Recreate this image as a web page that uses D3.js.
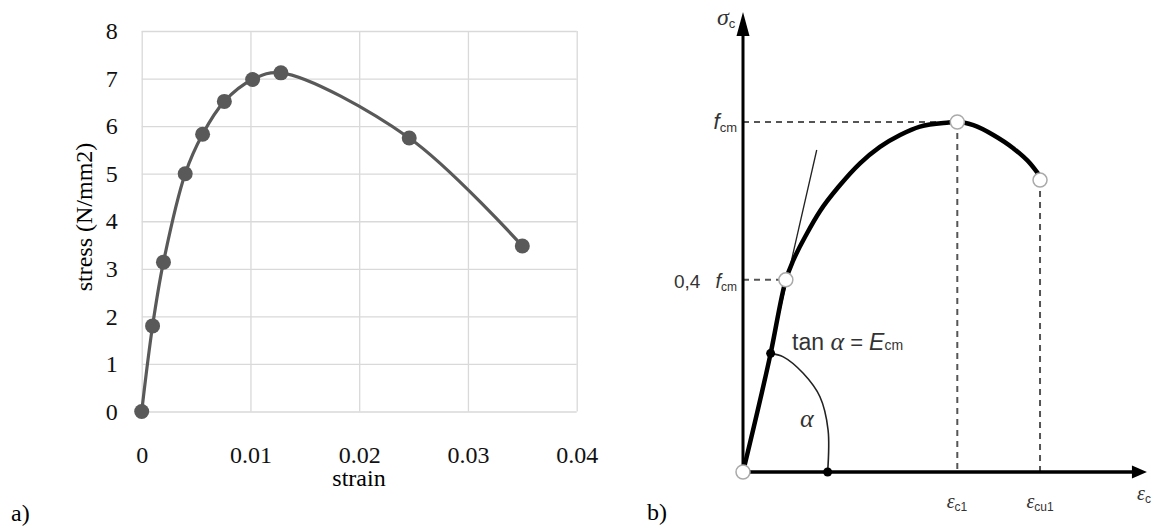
<!DOCTYPE html>
<html>
<head>
<meta charset="utf-8">
<script src="https://cdn.jsdelivr.net/npm/d3@7"></script>
<style>
  body { margin: 0; background: #fff; }
  .grid line { stroke: #d9d9d9; stroke-width: 1.3; }
  .grid path { display: none; }
  .tick text { font-family: "Liberation Serif", "Times New Roman", serif; font-size: 24px; fill: #111; }
  .diag { font-family: "Liberation Sans", Arial, sans-serif; fill: #333; }
</style>
</head>
<body>
<div id="chart"></div>
<script>
// ---- data: a) measured stress-strain curve
var strain = [0, 0.001, 0.002, 0.004, 0.0056, 0.0076, 0.0102, 0.0128, 0.0246, 0.035];
var stress = [0, 1.8, 3.14, 5.0, 5.83, 6.52, 6.98, 7.12, 5.75, 3.48];
var xTicks = [0, 0.01, 0.02, 0.03, 0.04];
var yTicks = [0, 1, 2, 3, 4, 5, 6, 7, 8];

// ---- data: b) schematic curve (strain / eps_c1, stress / f_cm)
var schemStrain = [0, 0.129, 0.2, 0.235, 0.297, 0.359, 0.453, 0.546, 0.639, 0.733, 0.826, 0.951, 1, 1.075, 1.168, 1.261, 1.339, 1.386];
var schemStress = [0, 0.339, 0.549, 0.605, 0.68, 0.745, 0.82, 0.882, 0.929, 0.963, 0.987, 0.998, 1, 0.991, 0.963, 0.925, 0.882, 0.845];
var secantEnd = [0.344, 0.92];
var arcStrain = [0.129, 0.188, 0.281, 0.359, 0.397, 0.395];
var arcStress = [0.339, 0.329, 0.282, 0.215, 0.12, 0];
var fcmLevel = 1, lowLevel = 0.549, lowStrain = 0.2;
var ec1 = 1, ecu1 = 1.386, ecu1Stress = 0.834;
var axisEnd = [1.885, 1.314];

var svgWidth = 1157, svgHeight = 531;

var svg = d3.select('#chart').append('svg')
    .attr('width', svgWidth)
    .attr('height', svgHeight);

// ================= a) =================
var xscale = d3.scaleLinear().domain([0, 0.04]).range([141.7, 576.7]);
var yscale = d3.scaleLinear().domain([0, 8]).range([411.5, 31]);

// gridlines
svg.append('g')
    .attr('class', 'grid')
    .attr('transform', 'translate(0, 31)')
    .call(d3.axisBottom(xscale).tickValues(xTicks).tickSize(380.5).tickFormat(''));
svg.append('g')
    .attr('class', 'grid')
    .attr('transform', 'translate(141.7, 0)')
    .call(d3.axisRight(yscale).tickValues(yTicks).tickSize(435).tickFormat(''));

// tick labels
var bottomaxis = d3.axisBottom(xscale).tickValues(xTicks).tickSize(0).tickPadding(34)
    .tickFormat(d => d === 0 ? '0' : d3.format('.2f')(d));
svg.append('g')
    .attr('transform', 'translate(0, 411.5)')
    .call(bottomaxis)
    .call(g => g.select('.domain').remove());

var leftaxis = d3.axisLeft(yscale).tickValues(yTicks).tickSize(0).tickPadding(24);
svg.append('g')
    .attr('transform', 'translate(141.7, 0)')
    .call(leftaxis)
    .call(g => g.select('.domain').remove());

// curve + markers
var pts = strain.map((s, i) => [s, stress[i]]);
var line = d3.line()
    .x(d => xscale(d[0]))
    .y(d => yscale(d[1]))
    .curve(d3.curveCatmullRom.alpha(0.5));

svg.append('path')
    .datum(pts)
    .attr('d', line)
    .attr('fill', 'none')
    .attr('stroke', '#595959')
    .attr('stroke-width', 3.2);

svg.selectAll('.mk')
    .data(pts)
    .enter()
    .append('circle')
    .attr('cx', d => xscale(d[0]))
    .attr('cy', d => yscale(d[1]))
    .attr('r', 7.5)
    .attr('fill', '#595959');

// axis titles
var serif = '"Liberation Serif", "Times New Roman", serif';
svg.append('text')
    .attr('x', 359).attr('y', 486)
    .attr('text-anchor', 'middle')
    .style('font-family', serif).style('font-size', '24px')
    .text('strain');

svg.append('text')
    .attr('transform', 'translate(92, 217) rotate(-90)')
    .attr('text-anchor', 'middle')
    .style('font-family', serif).style('font-size', '24px')
    .text('stress (N/mm2)');

svg.append('text')
    .attr('x', 11).attr('y', 521)
    .style('font-family', serif).style('font-size', '24px')
    .text('a)');

svg.append('text')
    .attr('x', 647).attr('y', 520)
    .style('font-family', serif).style('font-size', '24px')
    .text('b)');

// ================= b) =================
var xs = d3.scaleLinear().domain([0, 1]).range([743, 957.3]);
var ys = d3.scaleLinear().domain([0, 1]).range([472, 122]);
var b = svg.append('g');

// dashed reference lines
var dash = (x1, y1, x2, y2) => b.append('line')
    .attr('x1', x1).attr('y1', y1).attr('x2', x2).attr('y2', y2)
    .attr('stroke', '#555').attr('stroke-width', 2).attr('stroke-dasharray', '6,5');
dash(xs(0), ys(fcmLevel), xs(ec1), ys(fcmLevel));
dash(xs(0), ys(lowLevel), xs(lowStrain), ys(lowLevel));
dash(xs(ec1), ys(fcmLevel), xs(ec1), ys(0));
dash(xs(ecu1), ys(ecu1Stress), xs(ecu1), ys(0));

// axes with arrows
b.append('line')
    .attr('x1', xs(0)).attr('y1', ys(0)).attr('x2', xs(0)).attr('y2', ys(axisEnd[1]) + 20)
    .attr('stroke', '#000').attr('stroke-width', 3);
b.append('path')
    .attr('d', `M${xs(0)},${ys(axisEnd[1])} L${xs(0) - 6.5},${ys(axisEnd[1]) + 24} L${xs(0) + 6.5},${ys(axisEnd[1]) + 24} Z`)
    .attr('fill', '#000');
b.append('line')
    .attr('x1', xs(0)).attr('y1', ys(0)).attr('x2', xs(axisEnd[0]) - 12).attr('y2', ys(0))
    .attr('stroke', '#000').attr('stroke-width', 3.5);
b.append('path')
    .attr('d', `M${xs(axisEnd[0])},${ys(0)} L${xs(axisEnd[0]) - 15},${ys(0) - 6.5} L${xs(axisEnd[0]) - 15},${ys(0) + 6.5} Z`)
    .attr('fill', '#000');

// secant line
b.append('line')
    .attr('x1', xs(0)).attr('y1', ys(0)).attr('x2', xs(secantEnd[0])).attr('y2', ys(secantEnd[1]))
    .attr('stroke', '#222').attr('stroke-width', 1.3);

// angle arc
var arcPts = arcStrain.map((s, i) => [s, arcStress[i]]);
b.append('path')
    .datum(arcPts)
    .attr('d', d3.line().x(d => xs(d[0])).y(d => ys(d[1])).curve(d3.curveCatmullRom))
    .attr('fill', 'none').attr('stroke', '#222').attr('stroke-width', 1.6);

// main schematic curve
var sPts = schemStrain.map((s, i) => [s, schemStress[i]]);
b.append('path')
    .datum(sPts)
    .attr('d', d3.line().x(d => xs(d[0])).y(d => ys(d[1])).curve(d3.curveMonotoneX))
    .attr('fill', 'none').attr('stroke', '#000').attr('stroke-width', 4.5);

// black dots
[[arcStrain[0], arcStress[0]], [arcStrain[arcStrain.length - 1], 0]].forEach(p => {
    b.append('circle').attr('cx', xs(p[0])).attr('cy', ys(p[1])).attr('r', 4.5).attr('fill', '#000');
});

// open circles
[[0, 0], [lowStrain, lowLevel], [ec1, fcmLevel], [ecu1, ecu1Stress]].forEach(p => {
    b.append('circle').attr('cx', xs(p[0])).attr('cy', ys(p[1])).attr('r', 7)
        .attr('fill', '#fff').attr('stroke', '#aaa').attr('stroke-width', 1.5);
});

// labels
function label(x, y, main, sub, opts) {
    var t = b.append('text').attr('class', 'diag')
        .attr('x', x).attr('y', y)
        .attr('text-anchor', opts.anchor || 'start');
    t.append('tspan')
        .style('font-size', opts.size + 'px')
        .style('font-style', opts.italic ? 'italic' : 'normal')
        .style('font-family', opts.serif ? serif : null)
        .text(main);
    if (sub) {
        t.append('tspan')
            .style('font-size', opts.subSize + 'px')
            .attr('dy', opts.subDy || 3)
            .text(sub);
    }
    return t;
}
label(717, 25, 'σ', 'c', { size: 24, italic: true, serif: true, subSize: 13, subDy: 0 });
label(737, 129, 'f', 'cm', { size: 22, italic: true, anchor: 'end', subSize: 13 });
label(674, 288, '0,4 ', null, { size: 19 });
label(737, 288, 'f', 'cm', { size: 20, italic: true, anchor: 'end', subSize: 12 });
label(957, 508, 'ε', 'c1', { size: 20, italic: true, serif: true, anchor: 'middle', subSize: 12 });
label(1040, 508, 'ε', 'cu1', { size: 20, italic: true, serif: true, anchor: 'middle', subSize: 12 });
label(1137, 500, 'ε', 'c', { size: 20, italic: true, serif: true, subSize: 12 });
label(800, 427, 'α', null, { size: 26, italic: true, serif: true });

var tanT = b.append('text').attr('class', 'diag').attr('x', 792).attr('y', 350);
tanT.append('tspan').style('font-size', '23px').text('tan ');
tanT.append('tspan').style('font-size', '26px').style('font-style', 'italic').style('font-family', serif).text('α');
tanT.append('tspan').style('font-size', '22px').text('  = ');
tanT.append('tspan').style('font-size', '23px').style('font-style', 'italic').text('E');
tanT.append('tspan').style('font-size', '14px').text('cm');
</script>
</body>
</html>
